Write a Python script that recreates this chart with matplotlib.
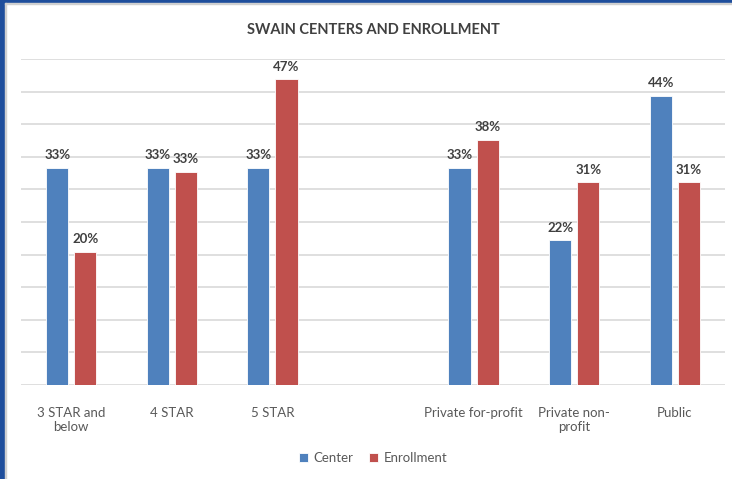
import matplotlib
matplotlib.use("Agg")
import matplotlib.pyplot as plt
import numpy as np
from matplotlib.patches import Rectangle

categories = ["3 STAR and\nbelow", "4 STAR", "5 STAR", "", "Private for-profit", "Private non-\nprofit", "Public"]
center = [33.3, 33.3, 33.3, np.nan, 33.3, 22.2, 44.4]
enrollment = [20.4, 32.7, 46.9, np.nan, 37.6, 31.1, 31.1]
center_labels = ["33%", "33%", "33%", "", "33%", "22%", "44%"]
enroll_labels = ["20%", "33%", "47%", "", "38%", "31%", "31%"]

plt.rcParams['font.family'] = ['Lato', 'DejaVu Sans']

fig = plt.figure(figsize=(7.32, 4.79), dpi=100)
ax = fig.add_axes([21/732, 1 - 385/479, (725-21)/732, (385-59)/479])

x = np.arange(len(categories))
w = 0.22
off = 0.14
blue = "#4f81bd"
red = "#c0504d"
ax.bar(x - off, center, w, color=blue, edgecolor="white", linewidth=0.6, label="Center", zorder=3)
ax.bar(x + off, enrollment, w, color=red, edgecolor="white", linewidth=0.6, label="Enrollment", zorder=3)

for xi, v, t in zip(x, center, center_labels):
    if t:
        ax.text(xi - off, v + 1.0, t, ha="center", va="bottom", fontsize=9.5, fontweight="bold", color="#404040")
for xi, v, t in zip(x, enrollment, enroll_labels):
    if t:
        ax.text(xi + off, v + 1.0, t, ha="center", va="bottom", fontsize=9.5, fontweight="bold", color="#404040")

ax.set_xlim(-0.5, len(categories) - 0.5)
ax.set_ylim(0, 50)
ax.set_yticks(np.arange(0, 51, 5))
ax.yaxis.grid(True, color="#d9d9d9", linewidth=1.2, zorder=0)
ax.tick_params(axis="y", left=False, labelleft=False)
ax.tick_params(axis="x", bottom=False, colors="#595959", labelsize=9.5, pad=12)
ax.set_xticks(x)
ax.set_xticklabels(categories)
for s in ax.spines.values():
    s.set_visible(False)

fig.text(373/732, 1 - 30/479, "SWAIN CENTERS AND ENROLLMENT", ha="center", va="center",
         fontsize=10.5, fontweight="bold", color="#404040")

leg = fig.legend(loc="center", bbox_to_anchor=(373/732, 1 - 458/479), ncol=2, frameon=False,
                 fontsize=9.5, handlelength=0.7, handleheight=0.7, columnspacing=1.2, handletextpad=0.4)
for t in leg.get_texts():
    t.set_color("#595959")

# frame border
fig.patches.append(Rectangle((0, 0), 5/732, 1, transform=fig.transFigure, color="#1f4e9c", zorder=10))
fig.patches.append(Rectangle((0, 1 - 3/479), 1, 3/479, transform=fig.transFigure, color="#1f4e9c", zorder=10))
fig.patches.append(Rectangle((5/732, 0), 1.2/732, 1 - 3/479, transform=fig.transFigure, color="#d0d0d0", zorder=10))
fig.patches.append(Rectangle((5/732, 1 - 4.2/479), 1 - 5/732, 1.2/479, transform=fig.transFigure, color="#d0d0d0", zorder=10))

fig.savefig("out.png", dpi=100)
